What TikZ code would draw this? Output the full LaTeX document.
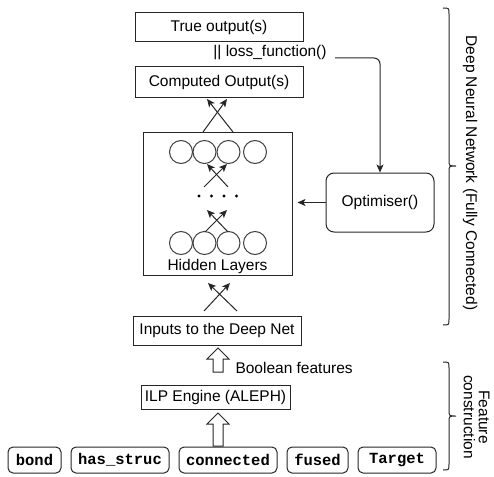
\documentclass[tikz,border=0pt]{standalone}
\usepackage{fontspec}
\setmainfont{Liberation Sans}
\setmonofont{Liberation Mono}
\usetikzlibrary{arrows.meta,calc}
\begin{document}
\begin{tikzpicture}[x=1pt,y=-1pt,
  font=\fontsize{15.5}{18}\selectfont,
  line width=1pt,
  box/.style={draw=black!85,line width=1pt,inner sep=0pt},
  feat/.style={draw=black!85,line width=1pt,inner sep=0pt,rounded corners=5pt,minimum height=26pt,font=\fontsize{15.5}{18}\selectfont\ttfamily\bfseries},
  circ/.style={circle,draw=black!75,line width=1pt,minimum size=23pt,inner sep=0pt},
  dot/.style={circle,fill=black,minimum size=3.2pt,inner sep=0pt},
  arr/.style={draw=black!85,line width=1pt,-{Stealth[length=8pt,width=7pt,inset=2pt]}},
  hollow/.style={draw=black!85,line width=1pt,fill=white}
]
\useasboundingbox (0,0) rectangle (494,476);

% main column
\node[box,minimum width=168pt,minimum height=29pt] (true) at (219,27.5) {True output(s)};
\node[inner sep=0pt] (loss) at (270,53) {|| loss\_function()};
\node[box,minimum width=168pt,minimum height=30pt] (comp) at (219,82) {Computed Output(s)};
\node[box,minimum width=149pt,minimum height=143pt] (hid) at (217.5,203.5) {};
\node[inner sep=0pt] (hl) at (217.5,266) {Hidden Layers};
\node[box,minimum width=168pt,minimum height=29pt] (inp) at (217,330.5) {Inputs to the Deep Net};
\node[inner sep=0pt,anchor=west] (bool) at (235,368) {Boolean features};
\node[box,minimum width=149pt,minimum height=24pt] (ilp) at (215.5,397) {ILP Engine (ALEPH)};

% neurons
\node[circ] (t1) at (181,152) {};
\node[circ] (t2) at (204.5,152) {};
\node[circ] (t3) at (228.5,152) {};
\node[circ] (t4) at (255,152) {};
\node[circ] (b1) at (181,243) {};
\node[circ] (b2) at (204.5,243) {};
\node[circ] (b3) at (228.5,243) {};
\node[circ] (b4) at (255,243) {};
\node[dot] (d1) at (199,196) {};
\node[dot] (d2) at (211.5,196) {};
\node[dot] (d3) at (224,196) {};
\node[dot] (d4) at (236.5,196) {};

% crossing arrows
\coordinate (x1a) at (233,132); \coordinate (x1b) at (207,99);
\coordinate (x1c) at (203,132); \coordinate (x1d) at (227,99);
\draw[arr] (x1a) -- (x1b);
\draw[arr] (x1c) -- (x1d);
\coordinate (x2a) at (228,187); \coordinate (x2b) at (207,164);
\coordinate (x2c) at (204,187); \coordinate (x2d) at (227,164);
\draw[arr] (x2a) -- (x2b);
\draw[arr] (x2c) -- (x2d);
\coordinate (x3a) at (228,232); \coordinate (x3b) at (207,210);
\coordinate (x3c) at (205,232); \coordinate (x3d) at (227,210);
\draw[arr] (x3a) -- (x3b);
\draw[arr] (x3c) -- (x3d);
\coordinate (x4a) at (237,311); \coordinate (x4b) at (208,283);
\coordinate (x4c) at (204,311); \coordinate (x4d) at (230,283);
\draw[arr] (x4a) -- (x4b);
\draw[arr] (x4c) -- (x4d);

% optimiser
\node[box,rounded corners=8pt,minimum width=108pt,minimum height=59pt] (opt) at (380,202.5) {Optimiser()};
\coordinate (ls) at (335,58);
\draw[arr,rounded corners=6pt] (ls) -- (opt.north |- ls) -- (opt.north);
\draw[arr] (opt.west) -- ($(hid.east |- opt.west)+(5,0)$);

% hollow arrows
\coordinate (h1) at (218,348);
\draw[hollow] (h1) -- ++(11,11) -- ++(-6,0) -- ++(0,13) -- ++(-10,0) -- ++(0,-13) -- ++(-6,0) -- cycle;
\coordinate (h2) at (218,413);
\draw[hollow] (h2) -- ++(11,11) -- ++(-6,0) -- ++(0,22) -- ++(-10,0) -- ++(0,-22) -- ++(-6,0) -- cycle;

% feature boxes
\node[feat,minimum width=53pt] (bond) at (34.5,460) {bond};
\node[feat,minimum width=98pt] (hs) at (120,460) {has\_struc};
\node[feat,minimum width=98pt] (conn) at (228,460) {connected};
\node[feat,minimum width=61pt] (fused) at (317.5,460) {fused};
\node[feat,minimum width=78pt] (targ) at (397,460) {Target};

% braces
\draw[black!85] (443,8) .. controls (449,8) .. (449,14) -- (449,160)
  .. controls (449,166) .. (456,166) .. controls (449,166) .. (449,172)
  -- (449,319) .. controls (449,325) .. (443,325);
\draw[black!85] (443,362) .. controls (449,362) .. (449,368) -- (449,410)
  .. controls (449,416) .. (456,416) .. controls (449,416) .. (449,422)
  -- (449,464) .. controls (449,470) .. (443,470);
\node[rotate=-90,inner sep=0pt] (dnn) at (470,173) {Deep Neural Network (Fully Connected)};
\node[rotate=-90,inner sep=0pt,align=center,font=\fontsize{15.5}{15}\selectfont] (fc) at (476.5,417) {Feature\\construction};
\end{tikzpicture}
\end{document}
